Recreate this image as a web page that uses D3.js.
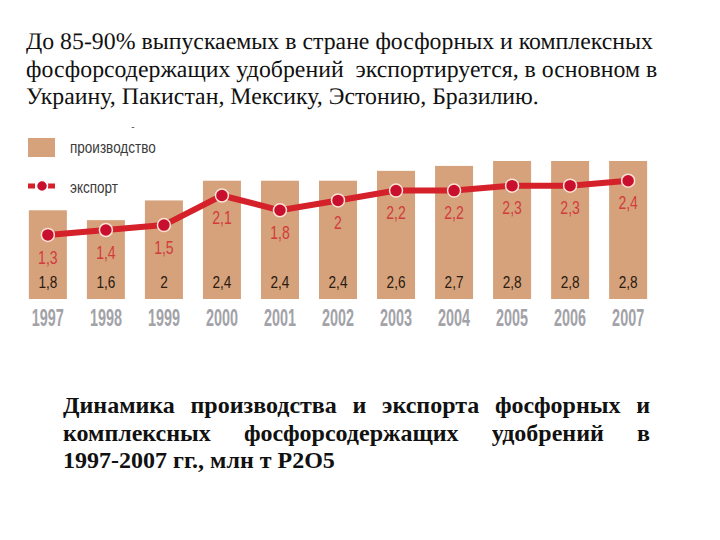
<!DOCTYPE html>
<html><head><meta charset="utf-8">
<script src="https://cdn.jsdelivr.net/npm/d3@7/dist/d3.min.js"></script>
<style>body{margin:0;background:#fff}svg{display:block}</style>
</head><body>
<script>
const years = ["1997","1998","1999","2000","2001","2002","2003","2004","2005","2006","2007"];
const production = [1.8,1.6,2.0,2.4,2.4,2.4,2.6,2.7,2.8,2.8,2.8];
const exportVals = [1.3,1.4,1.5,2.1,1.8,2.0,2.2,2.2,2.3,2.3,2.4];
const legendLabels = ["производство","экспорт"];
const titleLines = [
  "До 85-90% выпускаемых в стране фосфорных и комплексных",
  "фосфорсодержащих удобрений\u00a0 экспортируется, в основном в",
  "Украину, Пакистан, Мексику, Эстонию, Бразилию."
];
const captionLines = [
  "Динамика производства и экспорта фосфорных и",
  "комплексных фосфорсодержащих удобрений в",
  "1997-2007 гг., млн т P2O5"
];

const W = 720, H = 540;
const SERIF = '"Liberation Serif"', SANS = '"Liberation Sans"';
const svg = d3.select("body").append("svg").attr("width", W).attr("height", H);

const fmt = v => String(v).replace(".", ",");
const x = d3.scaleBand().domain(years).range([19, 657]).paddingInner(0.345).paddingOuter(0.17);
const y = d3.scaleLinear().domain([0, 2.8]).range([299, 161]);

const barColor = "#d5a27c", lineColor = "#d4212a", dotColor = "#c8102e", labRed = "#d23c3c";

// title
const tg = svg.append("g");
const tnodes = tg.selectAll("text").data(titleLines).join("text")
  .attr("x", 0).attr("y", 0)
  .style("font-family", SERIF).style("font-size", "22px")
  .style("text-rendering", "geometricPrecision").attr("fill", "#111")
  .text(d => d);
const w0 = tnodes.node().getComputedTextLength();
const ts = 627 / w0;
tnodes.attr("transform", (d, i) => `translate(26,${49 + i * 27.5}) scale(${ts})`);

// bars
svg.append("g").selectAll("rect").data(production).join("rect")
  .attr("x", (d, i) => x(years[i])).attr("width", x.bandwidth())
  .attr("y", d => y(d)).attr("height", d => y(0) - y(d))
  .attr("fill", barColor);

function ctext(g, tx, ty, str, size, sx, fill, weight) {
  g.append("text")
    .attr("transform", `translate(${tx},${ty}) scale(${sx},1)`)
    .attr("text-anchor", "middle").attr("dominant-baseline", "central")
    .style("font-family", SANS).style("font-size", size + "px")
    .style("font-weight", weight || "normal").attr("fill", fill).text(str);
}

const labels = svg.append("g");
production.forEach((v, i) => ctext(labels, x(years[i]) + x.bandwidth() / 2, 282, fmt(v), 17, 0.8, "#2a1a10"));
years.forEach((yr, i) => ctext(labels, x(yr) + x.bandwidth() / 2, 318, yr, 24, 0.6, "#a2a2a8", "bold"));

const cx = (d, i) => x(years[i]) + x.bandwidth() / 2;
const line = d3.line().x(cx).y(d => y(d));
svg.append("path").datum(exportVals).attr("d", line)
  .attr("fill", "none").attr("stroke", lineColor).attr("stroke-width", 6).attr("stroke-linejoin", "round");
svg.append("g").selectAll("circle").data(exportVals).join("circle")
  .attr("cx", cx).attr("cy", d => y(d)).attr("r", 6.5)
  .attr("fill", dotColor).attr("stroke", "#fbe3d6").attr("stroke-width", 1.5);
exportVals.forEach((v, i) => ctext(labels, cx(v, i), y(v) + 22, fmt(v), 18, 0.78, labRed));

const lg = svg.append("g");
lg.append("rect").attr("x", 28).attr("y", 138).attr("width", 27).attr("height", 19).attr("fill", barColor);
lg.append("line").attr("x1", 28).attr("x2", 56).attr("y1", 186).attr("y2", 186)
  .attr("stroke", lineColor).attr("stroke-width", 5).attr("stroke-dasharray", "7,3");
lg.append("circle").attr("cx", 42).attr("cy", 186).attr("r", 5.5).attr("fill", dotColor).attr("stroke", "#fff").attr("stroke-width", 1.5);
lg.selectAll("text.l").data(legendLabels).join("text").attr("class", "l")
  .attr("transform", (d, i) => `translate(70,${147 + i * 40}) scale(0.82,1)`)
  .attr("dominant-baseline", "central")
  .style("font-family", SANS).style("font-size", "16.5px").attr("fill", "#3a3a3a").text(d => d);
lg.append("text").attr("x", 133).attr("y", 130).attr("text-anchor", "middle")
  .style("font-family", SANS).style("font-size", "10px").attr("fill", "#555").text("-");

const cap = svg.append("g");
const left = 63, right = 650;
captionLines.forEach((ln, i) => {
  const by = 413 + i * 27.5;
  const words = i < captionLines.length - 1 ? ln.split(" ") : [ln];
  const nodes = words.map(w => cap.append("text").attr("y", by)
    .style("font-family", SERIF).style("font-size", "24px").style("font-weight", "bold")
    .attr("fill", "#111").text(w));
  if (words.length > 1) {
    const widths = nodes.map(n => n.node().getComputedTextLength());
    const gap = (right - left - d3.sum(widths)) / (words.length - 1);
    let xx = left;
    nodes.forEach((n, k) => { n.attr("x", xx); xx += widths[k] + gap; });
  } else {
    nodes[0].attr("x", left);
  }
});
</script>
</body></html>
